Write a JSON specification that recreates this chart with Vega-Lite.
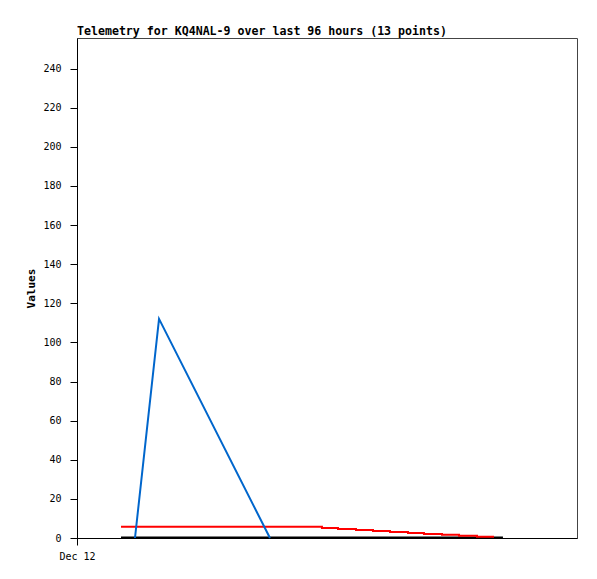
{
  "$schema": "https://vega.github.io/schema/vega-lite/v6.json",
  "autosize": "none",
  "width": 500,
  "height": 500,
  "padding": {"left": 77, "top": 38, "right": 20, "bottom": 41},
  "background": "white",
  "title": {
    "text": "Telemetry for KQ4NAL-9 over last 96 hours (13 points)",
    "anchor": "start",
    "frame": "group",
    "font": "DejaVu Sans Mono",
    "fontSize": 11.6,
    "fontWeight": "bold",
    "color": "black",
    "baseline": "alphabetic",
    "offset": -9
  },
  "config": {
    "view": {"stroke": "#444444", "strokeWidth": 1},
    "axis": {
      "grid": false,
      "domainColor": "black",
      "tickColor": "black",
      "tickSize": 7,
      "labelFont": "DejaVu Sans Mono",
      "labelFontSize": 10,
      "labelColor": "black",
      "titleFont": "DejaVu Sans Mono",
      "titleFontSize": 11,
      "titleFontWeight": "bold",
      "titleColor": "black"
    }
  },
  "data": {
    "values": [
      {"series": "red", "time": "2024-12-12T08:27:00Z", "value": 5.8},
      {"series": "red", "time": "2024-12-13T23:02:00Z", "value": 5.1},
      {"series": "red", "time": "2024-12-14T02:07:00Z", "value": 4.6},
      {"series": "red", "time": "2024-12-14T05:34:00Z", "value": 4.1},
      {"series": "red", "time": "2024-12-14T08:50:00Z", "value": 3.6},
      {"series": "red", "time": "2024-12-14T12:06:00Z", "value": 3.1},
      {"series": "red", "time": "2024-12-14T15:33:00Z", "value": 2.6},
      {"series": "red", "time": "2024-12-14T18:37:00Z", "value": 2.0},
      {"series": "red", "time": "2024-12-14T22:05:00Z", "value": 1.7},
      {"series": "red", "time": "2024-12-15T01:21:00Z", "value": 1.2},
      {"series": "red", "time": "2024-12-15T04:48:00Z", "value": 0.7},
      {"series": "red", "time": "2024-12-15T08:04:00Z", "value": 0.7},
      {"series": "black", "time": "2024-12-12T08:27:00Z", "value": 0.3},
      {"series": "black", "time": "2024-12-15T09:47:00Z", "value": 0.3},
      {"series": "blue", "time": "2024-12-12T11:08:00Z", "value": 0},
      {"series": "blue", "time": "2024-12-12T15:45:00Z", "value": 112},
      {"series": "blue", "time": "2024-12-13T13:03:00Z", "value": 0}
    ]
  },
  "encoding": {
    "x": {
      "field": "time",
      "type": "temporal",
      "scale": {"type": "utc", "domain": ["2024-12-12T00:00:00Z", "2024-12-16T00:00:00Z"]},
      "axis": {
        "title": null,
        "values": [{"year": 2024, "month": 12, "date": 12, "utc": true}],
        "format": "%b %d",
        "labelFlush": false,
        "labelAlign": "center",
        "labelPadding": 6
      }
    },
    "y": {
      "field": "value",
      "type": "quantitative",
      "scale": {"domain": [0, 255.6], "nice": false, "zero": false},
      "axis": {
        "title": "Values",
        "values": [0, 20, 40, 60, 80, 100, 120, 140, 160, 180, 200, 220, 240],
        "labelPadding": 9,
        "titlePadding": 6
      }
    }
  },
  "layer": [
    {
      "transform": [{"filter": "datum.series === 'black'"}],
      "mark": {"type": "line", "color": "black", "strokeWidth": 2, "clip": true}
    },
    {
      "transform": [{"filter": "datum.series === 'red'"}],
      "mark": {"type": "line", "color": "#ff0000", "strokeWidth": 2, "interpolate": "step-after"}
    },
    {
      "transform": [{"filter": "datum.series === 'blue'"}],
      "mark": {"type": "line", "color": "#0066cc", "strokeWidth": 2}
    }
  ]
}
